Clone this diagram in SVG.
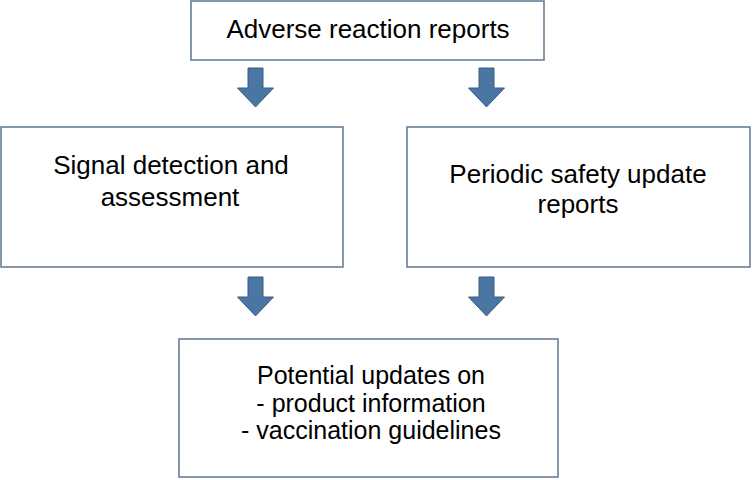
<svg xmlns="http://www.w3.org/2000/svg" width="753" height="480" viewBox="0 0 753 480">
<style>
.box{fill:#ffffff;stroke:#5f7690;stroke-width:1.5}
.t{font-family:"Liberation Sans",Arial,sans-serif;fill:#000000;text-anchor:middle}
.big{font-size:26px}
.mid{font-size:25px}
.arr{fill:#4a76a3;stroke:#3a5d84;stroke-width:1}
</style>
<defs>
<path id="downArrow" d="M-7.5,0 H7.5 V20 H18 L0,39 L-18,20 H-7.5 Z"/>
</defs>
<rect width="753" height="480" fill="#ffffff"/>
<g id="node-adverse">
<rect class="box" x="191" y="1" width="353" height="59"/>
<text class="t big" x="368" y="38">Adverse reaction reports</text>
</g>
<g id="node-signal">
<rect class="box" x="1" y="127" width="342" height="140"/>
<text class="t big" x="171" y="174">Signal detection and</text>
<text class="t big" x="170" y="206">assessment</text>
</g>
<g id="node-psur">
<rect class="box" x="407" y="127" width="343" height="140"/>
<text class="t big" x="578" y="183">Periodic safety update</text>
<text class="t big" x="578" y="213">reports</text>
</g>
<g id="node-updates">
<rect class="box" x="179" y="339" width="379" height="138"/>
<text class="t mid" x="371" y="384">Potential updates on</text>
<text class="t mid" x="371" y="411.5">- product information</text>
<text class="t mid" x="371" y="439">- vaccination guidelines</text>
</g>
<g id="connectors">
<use href="#downArrow" class="arr" x="255.5" y="68"/>
<use href="#downArrow" class="arr" x="486.5" y="68"/>
<use href="#downArrow" class="arr" x="255.5" y="277"/>
<use href="#downArrow" class="arr" x="486.5" y="277"/>
</g>
</svg>
